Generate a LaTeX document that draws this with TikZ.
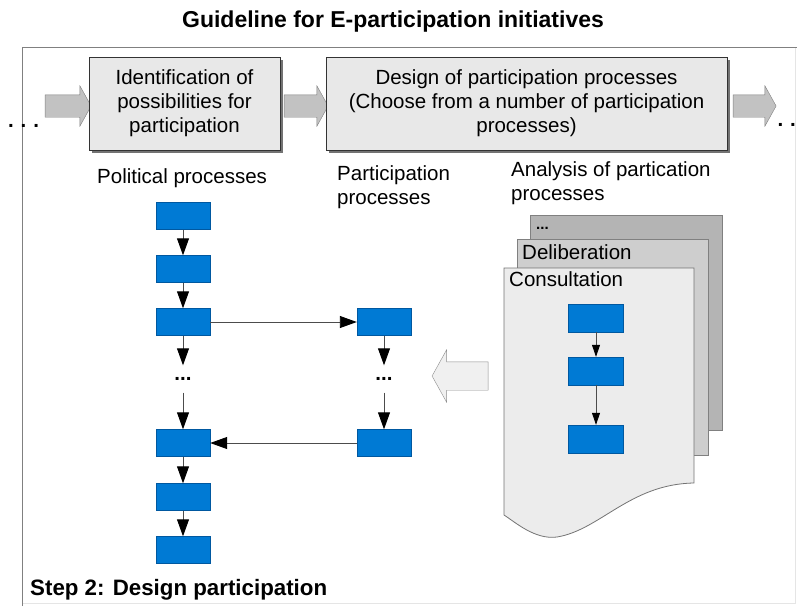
\documentclass[tikz,border=0pt]{standalone}
\usepackage{fontspec}
\setmainfont{Liberation Sans}
\usetikzlibrary{arrows.meta,positioning,shapes.arrows,shadows}
\definecolor{procblue}{RGB}{0,122,212}
\definecolor{procedge}{RGB}{0,88,160}
\definecolor{pagefront}{RGB}{236,236,236}
\definecolor{pagemid}{RGB}{206,206,206}
\definecolor{pageback}{RGB}{180,180,180}

\begin{document}
\begin{tikzpicture}[x=1pt, y=-1pt,
    phase/.style={draw=black!80, fill=black!9, line width=0.9pt, align=center,
                  inner sep=0pt, minimum height=93pt,
                  font=\fontsize{20.5}{24}\selectfont,
                  drop shadow={shadow xshift=3pt, shadow yshift=-3pt, fill=black!55, opacity=1}},
    bigarr/.style={single arrow, draw=black!50, fill=black!24, inner xsep=0pt,
                   inner ysep=11pt, single arrow head extend=9pt,
                   single arrow tip angle=122},
    proc/.style={draw=procedge, fill=procblue, minimum width=54pt, minimum height=27pt,
                 inner sep=0pt},
    gap/.style={minimum height=27pt, inner sep=0pt, font=\fontsize{20.5}{24}\selectfont\bfseries},
    flow/.style={-{Triangle[length=17pt, width=12pt, color=black]}, draw=black!70, line width=0.9pt},
    sflow/.style={-{Triangle[length=12pt, width=8pt, color=black]}, draw=black!70, line width=0.8pt},
    lbl/.style={font=\fontsize{20.5}{24}\selectfont, align=left, inner sep=0pt},
    hdr/.style={font=\fontsize{23}{27}\selectfont\bfseries, inner sep=0pt}
  ]
  \useasboundingbox (0,0) rectangle (797,606);
  % --- Frame and title ---
  \node[hdr] (title) at (393,22) {Guideline for E-participation initiatives};
  \draw[black!10, line width=0.9pt] (795,47) -- (795,603) -- (22,603);
  \draw[black!50, line width=0.9pt] (22,606) -- (22,47) -- (797,47);
  \node[hdr, anchor=west, font=\fontsize{22.3}{26}\selectfont\bfseries] (step) at (30,590)
    {Step 2: Design participation};
  % --- Phase row ---
  \node[gap, anchor=west] (din) at (8,126) {.\,\,.\,\,.};
  \node[bigarr, minimum height=46pt] (a1) at (65,106) {};
  \node[phase, minimum width=191pt] (ident) at (184.5,103.5)
    {Identification of\\possibilities for\\participation};
  \node[bigarr, minimum height=44pt] (a2) at (303,106) {};
  \node[phase, minimum width=401pt] (design) at (526.5,103.5)
    {Design of participation processes\\(Choose from a number of participation\\processes)};
  \node[bigarr, minimum height=43pt] (a3) at (751.5,106) {};
  \node[gap, anchor=east] (dout) at (796,125) {.\,\,.};
  % --- Column labels ---
  \node[lbl, anchor=west] (polit) at (97,178) {Political processes};
  \node[lbl, anchor=west] (partic) at (337,187) {Participation\\processes};
  \node[lbl, anchor=west] (analys) at (511,183) {Analysis of partication\\processes};
  % --- Political processes ---
  \node[proc] (p1) at (183,216) {};
  \node[proc] (p2) at (183,269) {};
  \node[proc] (p3) at (183,322) {};
  \node[gap]  (pd) at (183,379) {...};
  \node[proc] (p4) at (183,443) {};
  \node[proc] (p5) at (183,497) {};
  \node[proc] (p6) at (183,550) {};
  \draw[flow] (p1) -- (p2);
  \draw[flow] (p2) -- (p3);
  \draw[flow] (p3) -- (pd);
  \draw[flow] (pd) -- (p4);
  \draw[flow] (p4) -- (p5);
  \draw[flow] (p5) -- (p6);
  % --- Participation processes ---
  \node[proc] (m1) at (384,322) {};
  \node[gap]  (md) at (384,379) {...};
  \node[proc] (m2) at (384,443) {};
  \draw[flow] (p3) -- (m1);
  \draw[flow] (m1) -- (md);
  \draw[flow] (md) -- (m2);
  \draw[flow] (m2) -- (p4);
  % --- Catalogue of processes ---
  \draw[draw=black!50, fill=pageback, line width=0.8pt] (530,215) rectangle (722,430);
  \node[anchor=west, inner sep=0pt, font=\fontsize{15}{17}\selectfont\bfseries] (more) at (536,228) {...};
  \draw[draw=black!50, fill=pagemid, line width=0.8pt] (517,239) rectangle (708,455);
  \node[lbl, anchor=west] (delib) at (522,252) {Deliberation};
  \draw[draw=black!55, fill=pagefront, line width=0.8pt]
    (504,268) -- (694,268) -- (694,483)
    .. controls (630,484) and (600,530) .. (557,537)
    .. controls (535,540) and (515,522) .. (504,515) -- cycle;
  \node[lbl, anchor=west] (consult) at (509,279) {Consultation};
  \node[proc, minimum width=55pt, minimum height=28pt] (c1) at (596,318) {};
  \node[proc, minimum width=55pt, minimum height=28pt] (c2) at (596,371) {};
  \node[proc, minimum width=55pt, minimum height=28pt] (c3) at (596,439) {};
  \draw[sflow] (c1) -- (c2);
  \draw[sflow] (c2) -- (c3);
  \node[bigarr, draw=black!45, fill=black!6, inner ysep=14pt, single arrow head extend=12pt,
        minimum height=56pt, shape border rotate=180] (pick) at (464,376) {};
\end{tikzpicture}
\end{document}
